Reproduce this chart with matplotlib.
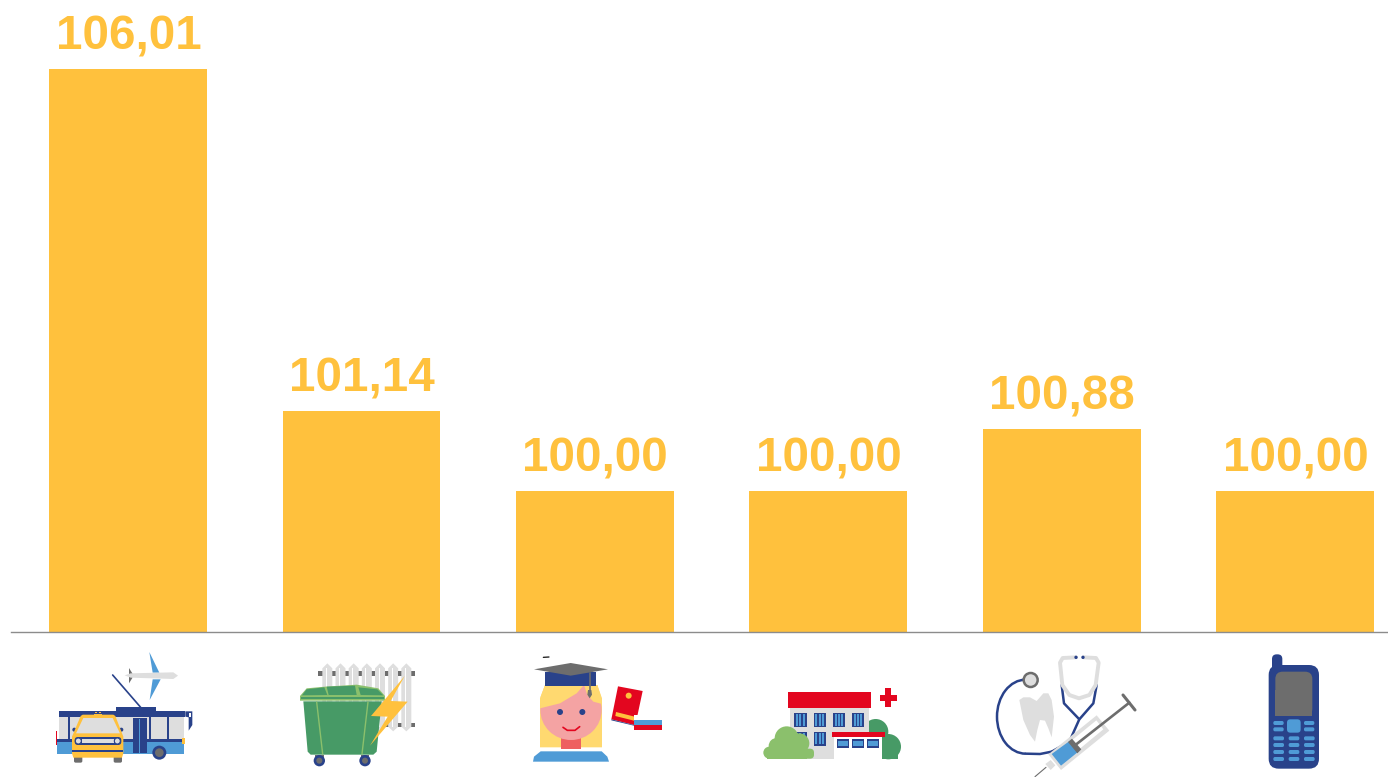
import matplotlib
matplotlib.use('Agg')
import matplotlib.pyplot as plt
from matplotlib.patches import Arc, Circle, Ellipse, FancyBboxPatch, Polygon, Rectangle

categories = ['Транспорт', 'ЖКХ', 'Образование', 'Здравоохранение', 'Медицина', 'Связь']
values = [106.01, 101.14, 100.00, 100.00, 100.88, 100.00]

YELLOW = '#FFC13D'
NAVY = '#29428A'
BLUE = '#4F9BD6'
GREEN = '#479A66'
LIGHT_GREEN = '#8BC06C'
RED = '#E3061F'
GREY = '#6D6D6D'
LIGHT = '#DEDEDE'
SKIN = '#F4A3A3'
HAIR = '#FFD970'

fig = plt.figure(figsize=(13.88, 7.77), dpi=100)
fig.patch.set_facecolor('white')

# оси с барами: от левого края линии до правого края картинки
ax = fig.add_axes([11 / 1388, 1 - 632 / 777, 1377 / 1388, 632 / 777])
ax.bar(range(len(values)), values, width=0.676, color=YELLOW)
ax.set_xlim(-0.502, 5.398)
ax.set_ylim(97.99, 107)
ax.patch.set_alpha(0)
ax.set_yticks([])
ax.set_xticks([])
for side in ['top', 'left', 'right']:
    ax.spines[side].set_visible(False)
ax.spines['bottom'].set_color('#8C8C8C')
ax.spines['bottom'].set_linewidth(1.0)

for i, v in enumerate(values):
    ax.annotate(f"{v:.2f}".replace('.', ','), (i, v), xytext=(0.3, 14), textcoords='offset points',
                ha='center', va='baseline', color=YELLOW, fontsize=34.3,
                fontweight='bold', family='Liberation Sans')

# слой для пиктограмм, координаты в пикселях
ov = fig.add_axes([0, 0, 1, 1])
ov.set_xlim(0, 1388)
ov.set_ylim(777, 0)
ov.axis('off')
ov.patch.set_alpha(0)


class Icon:
    """Рисует в координатах увеличенного в 3 раза фрагмента."""

    def __init__(self, ox, oy):
        self.ox, self.oy = ox, oy

    def pt(self, x, y):
        return (self.ox + x / 3, self.oy + y / 3)

    def rect(self, x, y, w, h, color, z=3):
        ov.add_patch(Rectangle(self.pt(x, y), w / 3, h / 3, fc=color, ec='none', zorder=z))

    def rrect(self, x, y, w, h, r, color, z=3):
        ov.add_patch(FancyBboxPatch(self.pt(x + r, y + r), (w - 2 * r) / 3, (h - 2 * r) / 3,
                                    boxstyle=f"round,pad={r / 3}", fc=color, ec='none', zorder=z))

    def poly(self, pts, color, z=3):
        ov.add_patch(Polygon([self.pt(*p) for p in pts], closed=True, fc=color, ec='none', zorder=z))

    def circ(self, x, y, r, color, z=3, ec='none', lw=0):
        ov.add_patch(Circle(self.pt(x, y), r / 3, fc=color, ec=ec, lw=lw, zorder=z))

    def ell(self, x, y, w, h, color, z=3):
        ov.add_patch(Ellipse(self.pt(x, y), w / 3, h / 3, fc=color, ec='none', zorder=z))

    def line(self, pts, color, lw=1.5, z=3):
        xs, ys = zip(*[self.pt(*p) for p in pts])
        ov.plot(xs, ys, color=color, lw=lw, zorder=z, solid_capstyle='round', solid_joinstyle='round')


# транспорт
t = Icon(40, 640)
t.line([(218, 105), (302, 202)], NAVY, 1.2)
t.poly([(328, 36), (358, 98), (338, 98)], BLUE)
t.poly([(338, 118), (362, 118), (329, 180)], BLUE)
t.poly([(254, 106), (272, 100), (400, 97), (414, 107), (400, 117), (272, 113)], LIGHT, 4)
t.poly([(267, 84), (277, 100), (277, 114), (267, 130)], GREY)
t.rect(228, 200, 120, 14, NAVY)
t.rect(56, 213, 380, 17, NAVY)
t.rect(56, 230, 376, 68, LIGHT)
t.rect(51, 305, 381, 37, BLUE)
t.rect(52, 297, 380, 9, NAVY)
t.rect(84, 230, 6, 68, NAVY)
t.rect(327, 230, 6, 68, NAVY)
t.rect(381, 230, 6, 68, NAVY)
t.rect(272, 230, 55, 68, LIGHT)
t.rect(278, 234, 43, 106, NAVY)
t.rect(298, 236, 3, 104, BLUE)
t.rect(48, 272, 4, 44, RED)
t.rect(426, 294, 9, 17, YELLOW)
t.poly([(436, 214), (457, 214), (457, 255), (446, 272), (446, 232), (436, 230)], NAVY)
t.rect(448, 218, 6, 14, 'white', 4)
t.circ(358, 338, 21, NAVY)
t.circ(358, 338, 13, GREY, 4)
t.rrect(102, 345, 25, 23, 5, GREY, 5)
t.rrect(221, 345, 25, 23, 5, GREY, 5)
t.circ(103, 269, 6, NAVY, 5)
t.circ(244, 269, 6, NAVY, 5)
t.poly([(96, 290), (122, 228), (128, 224), (220, 224), (226, 228), (250, 290), (250, 340), (246, 353),
        (100, 353), (96, 340)], YELLOW, 6)
t.poly([(108, 280), (130, 234), (218, 234), (240, 280)], LIGHT, 7)
t.rrect(104, 291, 140, 24, 10, NAVY, 7)
t.rect(126, 296, 96, 14, LIGHT, 8)
t.circ(115, 303, 9, LIGHT, 8, NAVY, 0.8)
t.circ(232, 303, 9, LIGHT, 8, NAVY, 0.8)
t.rect(96, 330, 154, 6, NAVY, 7)
t.rect(166, 216, 5, 3, YELLOW, 7)
t.rect(177, 216, 5, 3, YELLOW, 7)
t.rect(162, 222, 25, 4, YELLOW, 7)

# контейнер и батарея
g = Icon(40, 640)
g.rect(834, 92, 292, 16, GREY, 1)
g.rect(1030, 248, 96, 14, GREY, 1)
for i in range(7):
    x = 862 + 39.5 * i
    g.poly([(x - 15, 85), (x, 70), (x + 15, 85), (x + 15, 260), (x, 274), (x - 15, 260)], LIGHT, 2)
    g.rect(x - 4, 85, 3, 175, 'white', 2)
    g.rect(x + 16, 92, 8, 16, GREY, 2)
    g.rect(x + 16, 248, 8, 14, GREY, 2)
g.poly([(780, 168), (800, 145), (855, 140), (950, 134), (1015, 145), (1035, 168), (1035, 182), (780, 182)], LIGHT_GREEN, 4)
g.poly([(800, 148), (853, 142), (862, 165), (786, 166)], GREEN, 5)
g.poly([(860, 140), (945, 137), (950, 165), (866, 165)], GREEN, 5)
g.poly([(955, 142), (1012, 148), (1030, 166), (962, 165)], GREEN, 5)
g.rect(782, 170, 251, 6, GREEN, 5)
g.poly([(790, 184), (1025, 184), (1010, 335), (1000, 344), (812, 344), (803, 335)], GREEN, 4)
g.line([(830, 186), (848, 342)], LIGHT_GREEN, 1.0, 5)
g.line([(984, 186), (966, 342)], LIGHT_GREEN, 1.0, 5)
for x in (838, 975):
    g.rect(x - 13, 344, 26, 18, GREY, 3)
    g.circ(x, 362, 17, NAVY, 4)
    g.circ(x, 362, 9, GREY, 5)
g.poly([(1094, 108), (993, 228), (1043, 230), (990, 317), (1103, 185), (1052, 183)], YELLOW, 6)

# выпускница
s = Icon(510, 640)
s.line([(100, 52), (117, 51)], '#111111', 0.9)
s.poly([(90, 322), (90, 175), (105, 135), (262, 135), (276, 180), (276, 322)], HAIR, 2)
s.rect(153, 285, 60, 43, '#EE6060', 3)
s.ell(183, 210, 184, 180, SKIN, 3)
s.poly([(90, 205), (150, 190), (200, 160), (222, 135), (232, 165), (250, 185), (276, 192), (276, 175),
        (262, 135), (105, 135), (92, 170)], HAIR, 4)
s.rect(105, 95, 153, 43, NAVY, 5)
s.poly([(72, 88), (182, 69), (294, 88), (182, 107)], GREY, 6)
s.line([(239, 98), (239, 155)], GREY, 1.2, 7)
s.poly([(234, 150), (244, 150), (246, 164), (239, 175), (232, 164)], GREY, 7)
s.circ(150, 216, 9, NAVY, 5)
s.circ(217, 216, 9, NAVY, 5)
s.line([(159, 262), (172, 271), (195, 271), (209, 260)], RED, 1.2, 5)
s.poly([(69, 365), (72, 350), (92, 334), (275, 334), (292, 350), (297, 365)], BLUE, 3)
s.poly([(324, 139), (398, 153), (376, 256), (304, 238)], RED, 3)
s.poly([(304, 238), (376, 256), (376, 258), (304, 241)], NAVY, 3)
s.poly([(318, 216), (374, 230), (372, 242), (316, 228)], YELLOW, 4)
s.circ(356, 167, 9, YELLOW, 4)
s.rect(372, 225, 84, 15, 'white', 5)
s.rect(372, 240, 84, 15, BLUE, 5)
s.rect(372, 255, 84, 15, RED, 5)

# больница
h = Icon(510, 640)
h.circ(1097, 275, 38, GREEN, 2)
h.circ(1135, 320, 38, GREEN, 2)
h.rect(1080, 310, 85, 46, GREEN, 2)
h.rect(840, 200, 238, 156, LIGHT, 3)
h.rect(834, 156, 249, 48, RED, 4)
h.rect(1110, 165, 51, 19, RED, 4)
h.rect(1125, 144, 19, 57, RED, 4)
for x in (853, 911, 969, 1026):
    h.rect(x, 219, 37, 42, NAVY, 4)
    for dx in (5, 15, 25):
        h.rect(x + dx, 223, 6, 34, BLUE, 5)
for x in (853, 911):
    h.rect(x, 275, 37, 42, NAVY, 4)
    for dx in (5, 15, 25):
        h.rect(x + dx, 279, 6, 34, BLUE, 5)
h.rect(973, 288, 143, 70, 'white', 6)
h.rect(966, 276, 159, 15, RED, 7)
for x in (981, 1026, 1071):
    h.rect(x, 298, 36, 25, NAVY, 7)
    h.rect(x + 4, 303, 28, 15, BLUE, 8)
h.circ(830, 295, 36, LIGHT_GREEN, 6)
h.circ(800, 318, 24, LIGHT_GREEN, 6)
h.circ(868, 310, 30, LIGHT_GREEN, 6)
h.circ(778, 338, 18, LIGHT_GREEN, 6)
h.rrect(880, 326, 32, 30, 12, LIGHT_GREEN, 6)
h.rect(770, 325, 120, 31, LIGHT_GREEN, 6)

# стетоскоп, зуб, шприц
m = Icon(980, 640)
ov.add_patch(Arc(m.pt(137, 230), 172 / 3, 222 / 3, theta1=90, theta2=270, color=NAVY, lw=1.8, zorder=2))
m.line([(137, 341), (180, 342), (215, 335)], NAVY, 1.8, 2)
m.line([(137, 119), (150, 119)], NAVY, 1.8, 2)
m.line([(215, 335), (268, 305), (297, 240)], NAVY, 1.8, 2)
m.circ(152, 120, 21, LIGHT, 5, GREY, 1.8)
m.line([(245, 135), (252, 190), (298, 238), (340, 190), (350, 135)], NAVY, 1.8, 3)
m.line([(288, 52), (248, 54), (240, 68), (247, 135), (268, 165), (297, 175), (328, 165), (347, 135),
        (356, 68), (348, 54), (310, 52)], LIGHT, 2.8, 4)
m.circ(288, 52, 5, NAVY, 5)
m.circ(309, 52, 5, NAVY, 5)
m.poly([(118, 180), (130, 172), (150, 172), (170, 183), (190, 160), (205, 160), (215, 180), (222, 230),
        (215, 292), (205, 265), (195, 242), (180, 240), (172, 270), (165, 305), (150, 285), (130, 240)], LIGHT, 3)
m.poly([(205, 343), (350, 226), (388, 272), (243, 390)], LIGHT, 6)
m.poly([(222, 345), (349, 241), (370, 268), (245, 371)], 'white', 7)
m.poly([(215, 342), (270, 302), (295, 335), (243, 377)], BLUE, 8)
m.poly([(264, 306), (276, 296), (304, 328), (292, 340)], GREY, 9)
m.line([(290, 312), (448, 188)], GREY, 1.9, 9)
m.line([(429, 165), (465, 210)], GREY, 2.2, 9)
m.poly([(196, 372), (212, 360), (226, 376), (212, 390)], LIGHT, 6)
m.line([(198, 382), (165, 410)], GREY, 0.8, 6)

# телефон
p = Icon(980, 640)
p.rrect(876, 43, 31, 70, 14, NAVY, 3)
p.rrect(866, 75, 151, 311, 30, NAVY, 4)
p.rrect(886, 95, 111, 133, 22, GREY, 5)
p.rect(886, 150, 111, 78, GREY, 5)
p.rrect(921, 238, 41, 40, 10, BLUE, 5)
for y in (243, 262):
    p.rrect(880, y, 31, 12, 5, BLUE, 5)
    p.rrect(972, y, 31, 12, 5, BLUE, 5)
for y in (289, 309, 330, 351):
    for x in (880, 926, 972):
        p.rrect(x, y, 32, 12, 5, BLUE, 5)

fig.savefig('out.png', dpi=100, facecolor='white')
